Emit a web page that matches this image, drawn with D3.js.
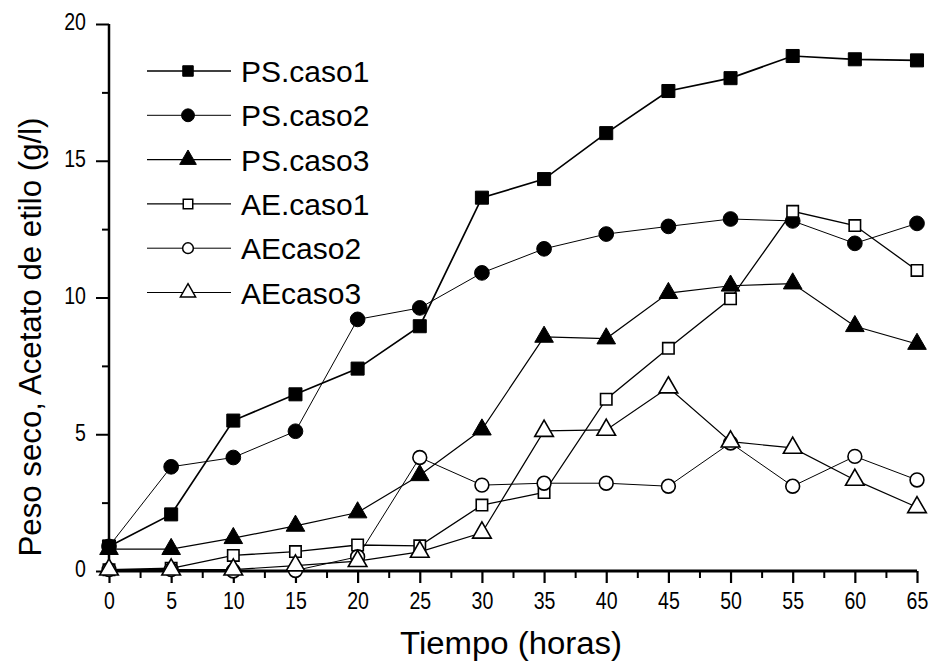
<!DOCTYPE html>
<html>
<head>
<meta charset="utf-8">
<script src="https://cdn.jsdelivr.net/npm/d3@7"></script>
<style>
  html, body { margin: 0; padding: 0; background: #fff; }
  svg { display: block; }
  text { font-family: "Liberation Sans", Arial, Helvetica, sans-serif; fill: #000; }
</style>
</head>
<body>
<svg id="chart" width="931" height="665"></svg>
<script>
// ---- data ----
const hours = [0, 5, 10, 15, 20, 25, 30, 35, 40, 45, 50, 55, 60, 65];
const psCaso1 = [0.9, 2.07, 5.5, 6.46, 7.4, 8.95, 13.65, 14.33, 16.01, 17.55, 18.02, 18.83, 18.71, 18.67];
const psCaso2 = [0.9, 3.81, 4.15, 5.11, 9.2, 9.62, 10.9, 11.78, 12.32, 12.6, 12.87, 12.8, 11.98, 12.71];
const psCaso3 = [0.8, 0.8, 1.2, 1.65, 2.14, 3.5, 5.17, 8.56, 8.5, 10.16, 10.43, 10.51, 8.95, 8.3];
const aeCaso1 = [0.05, 0.1, 0.57, 0.71, 0.95, 0.92, 2.41, 2.87, 6.28, 8.14, 9.95, 13.15, 12.63, 10.99];
const aeCaso2 = [0.05, 0.05, 0.0, 0.02, 0.52, 4.15, 3.14, 3.21, 3.21, 3.1, 4.68, 3.1, 4.19, 3.33];
const aeCaso3 = [0.05, 0.05, 0.05, 0.2, 0.36, 0.7, 1.4, 5.12, 5.16, 6.71, 4.73, 4.5, 3.33, 2.33];
const seriesNames = ["PS.caso1", "PS.caso2", "PS.caso3", "AE.caso1", "AEcaso2", "AEcaso3"];
const xTicks = [0, 5, 10, 15, 20, 25, 30, 35, 40, 45, 50, 55, 60, 65];
const yTicks = [0, 5, 10, 15, 20];
const xTitle = "Tiempo (horas)";
const yTitle = "Peso seco, Acetato de etilo (g/l)";

// ---- setup ----
const svg = d3.select("#chart");
const m = { left: 109, right: 917, top: 24, bottom: 571 };
const x = d3.scaleLinear().domain([0, 65]).range([m.left, m.right]);
const y = d3.scaleLinear().domain([0, 20]).range([m.bottom, m.top]);

const series = [
  { name: seriesNames[0], values: psCaso1, shape: d3.symbolSquare, filled: true, size: 170, lsize: 110, lw: 1.7 },
  { name: seriesNames[1], values: psCaso2, shape: d3.symbolCircle, filled: true, size: 170, lsize: 130, lw: 1.0 },
  { name: seriesNames[2], values: psCaso3, shape: d3.symbolTriangle, filled: true, size: 150, lsize: 120, lw: 1.2 },
  { name: seriesNames[3], values: aeCaso1, shape: d3.symbolSquare, filled: false, size: 130, lsize: 90, lw: 1.3 },
  { name: seriesNames[4], values: aeCaso2, shape: d3.symbolCircle, filled: false, size: 150, lsize: 90, lw: 1.0 },
  { name: seriesNames[5], values: aeCaso3, shape: d3.symbolTriangle, filled: false, size: 150, lsize: 100, lw: 1.2 }
];

function narrow(sel, f) {
  sel.each(function () {
    const w = this.getComputedTextLength();
    d3.select(this).attr("textLength", w * f).attr("lengthAdjust", "spacingAndGlyphs");
  });
}

// ---- axes ----
const xMinor = d3.range(0, 65.01, 2.5).filter(v => v % 5 !== 0);
const yMinor = d3.range(0, 20.01, 2.5).filter(v => v % 5 !== 0);

const xAxis = svg.append("g").attr("transform", `translate(0,${m.bottom})`)
  .call(d3.axisBottom(x).tickValues(xTicks).tickSize(12).tickPadding(10).tickFormat(d3.format("d")));
xAxis.select(".domain").attr("stroke-width", 3).attr("d", `M${m.left},0H${m.right}`);
xAxis.selectAll(".tick line").attr("stroke-width", 2.2);
xAxis.selectAll(".tick text").attr("font-size", 23).attr("font-family", "Liberation Sans, Arial, sans-serif")
  .call(narrow, 0.85);
svg.append("g").attr("transform", `translate(0,${m.bottom})`)
  .call(d3.axisBottom(x).tickValues(xMinor).tickSize(7).tickFormat(""))
  .call(g => g.select(".domain").remove())
  .selectAll(".tick line").attr("stroke-width", 2);

const yAxis = svg.append("g").attr("transform", `translate(${m.left},0)`)
  .call(d3.axisLeft(y).tickValues(yTicks).tickSize(13).tickPadding(10).tickFormat(d3.format("d")));
yAxis.select(".domain").attr("stroke-width", 2.5).attr("d", `M0,${m.top}V${m.bottom}`);
yAxis.selectAll(".tick line").attr("stroke-width", 2);
yAxis.selectAll(".tick text").attr("font-size", 23).attr("font-family", "Liberation Sans, Arial, sans-serif")
  .attr("dy", "0.25em")
  .call(narrow, 0.85);
svg.append("g").attr("transform", `translate(${m.left},0)`)
  .call(d3.axisLeft(y).tickValues(yMinor).tickSize(7).tickFormat(""))
  .call(g => g.select(".domain").remove())
  .selectAll(".tick line").attr("stroke-width", 2);

// titles
svg.append("text").attr("x", 511).attr("y", 654).attr("text-anchor", "middle")
  .attr("font-size", 31).attr("textLength", 222).attr("lengthAdjust", "spacingAndGlyphs").text(xTitle);
svg.append("text").attr("transform", "translate(41,337) rotate(-90)").attr("text-anchor", "middle")
  .attr("font-size", 31).attr("textLength", 439).attr("lengthAdjust", "spacingAndGlyphs").text(yTitle);

// ---- lines & markers ----
const line = d3.line().x((d, i) => x(hours[i])).y(d => y(d));
const plot = svg.append("g");
series.forEach(s => {
  plot.append("path").attr("d", line(s.values)).attr("fill", "none")
    .attr("stroke", "#000").attr("stroke-width", s.lw);
});
series.forEach(s => {
  const sym = d3.symbol().type(s.shape).size(s.size);
  plot.selectAll(null).data(s.values).enter().append("path")
    .attr("d", sym)
    .attr("transform", (d, i) => `translate(${x(hours[i])},${y(d)})`)
    .attr("fill", s.filled ? "#000" : "#fff")
    .attr("stroke", "#000").attr("stroke-width", s.filled ? 1 : 1.6);
});

// ---- legend ----
const lg = svg.append("g");
series.forEach((s, i) => {
  const cy = 71 + i * 44.3;
  lg.append("line").attr("x1", 147).attr("x2", 231).attr("y1", cy).attr("y2", cy)
    .attr("stroke", "#000").attr("stroke-width", s.lw);
  lg.append("path").attr("d", d3.symbol().type(s.shape).size(s.lsize))
    .attr("transform", `translate(188,${cy})`)
    .attr("fill", s.filled ? "#000" : "#fff")
    .attr("stroke", "#000").attr("stroke-width", s.filled ? 1 : 1.5);
  lg.append("text").attr("x", 241).attr("y", cy + 11).attr("font-size", 30).text(s.name);
});
</script>
</body>
</html>
